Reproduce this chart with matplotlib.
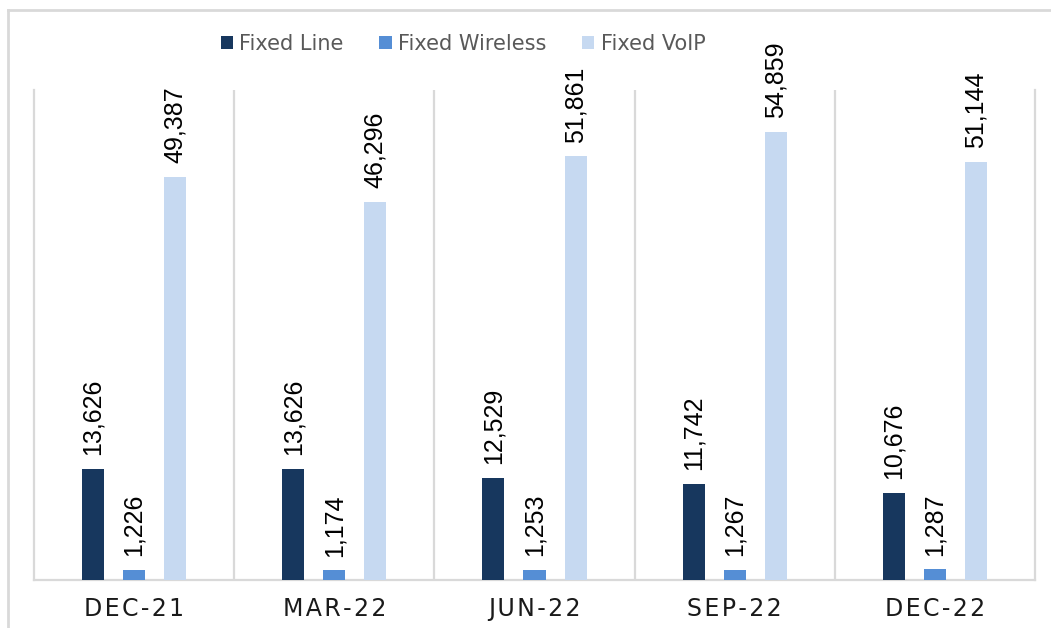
import numpy as np
import matplotlib
matplotlib.use("Agg")
import matplotlib.pyplot as plt
from matplotlib.lines import Line2D

# --- data ---
quarters = ["DEC-21", "MAR-22", "JUN-22", "SEP-22", "DEC-22"]
fixed_line = [13626, 13626, 12529, 11742, 10676]
fixed_wireless = [1226, 1174, 1253, 1267, 1287]
fixed_voip = [49387, 46296, 51861, 54859, 51144]

series_names = ["Fixed Line", "Fixed Wireless", "Fixed VoIP"]
colors = ["#17375E", "#558ED5", "#C6D9F1"]
grid_col = "#D9D9D9"

W, H = 1051, 628
fig = plt.figure(figsize=(W / 100, H / 100), dpi=100)
ax = fig.add_axes([34 / W, 1 - 580 / H, (1035 - 34) / W, (580 - 90) / H])

# outer frame: only top and left edges fall inside the image
fx, fy = 8 / W, 1 - 10 / H
fig.add_artist(Line2D([fx, 1.0], [fy, fy], transform=fig.transFigure,
                      color=grid_col, linewidth=2))
fig.add_artist(Line2D([fx, fx], [0.0, fy], transform=fig.transFigure,
                      color=grid_col, linewidth=2))

x = np.arange(len(quarters))
offsets = [-0.205, 0.0, 0.205]
width = 0.11

for vals, off, col, name in zip([fixed_line, fixed_wireless, fixed_voip],
                                offsets, colors, series_names):
    bars = ax.bar(x + off, vals, width=width, color=col, label=name, zorder=3)
    for b, v in zip(bars, vals):
        ax.annotate(f"{v:,}", (b.get_x() + b.get_width() / 2, v),
                    xytext=(0, 10), textcoords="offset points",
                    rotation=90, ha="center", va="bottom",
                    fontsize=18, family="Liberation Sans", color="black")

ax.set_xlim(-0.5, len(quarters) - 0.5)
ax.set_ylim(0, 60000)

# category separators
for b in np.arange(0.5, len(quarters) - 0.5, 1):
    ax.axvline(b, color=grid_col, linewidth=1.6, zorder=1)

ax.spines["top"].set_visible(False)
for s in ["left", "right", "bottom"]:
    ax.spines[s].set_color(grid_col)
    ax.spines[s].set_linewidth(1.6)

ax.set_yticks([])
ax.set_xticks(x)
ax.set_xticklabels(["\u200a".join(q) for q in quarters],
                   fontsize=17, family="DejaVu Sans", color="#1a1a1a")
ax.tick_params(axis="x", length=0, pad=12)

fig.legend(loc="center", bbox_to_anchor=(463 / W, 1 - 44 / H), ncol=3,
           frameon=False, fontsize=15, handlelength=0.6, handleheight=0.6,
           handletextpad=0.3, columnspacing=1.7, labelcolor="#595959")

fig.savefig("out.png", dpi=100, facecolor="white")
